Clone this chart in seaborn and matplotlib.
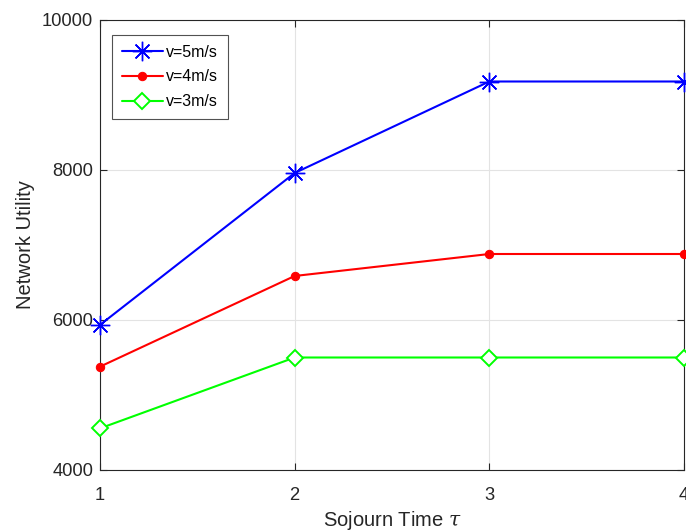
import matplotlib
matplotlib.use("Agg")
import matplotlib.pyplot as plt
import seaborn as sns
import pandas as pd

# ---- data ----
sojourn_time = [1, 2, 3, 4]
util_v5 = [5935, 7960, 9180, 9180]
util_v4 = [5378, 6587, 6880, 6880]
util_v3 = [4555, 5500, 5500, 5500]
series_labels = ["v=5m/s", "v=4m/s", "v=3m/s"]
y_ticks = [4000, 6000, 8000, 10000]
x_ticks = [1, 2, 3, 4]

sns.set_theme(style="white")
plt.rcParams["font.family"] = ["Liberation Sans", "DejaVu Sans"]
plt.rcParams["mathtext.fontset"] = "dejavuserif"

fig = plt.figure(figsize=(6.86, 5.32), dpi=100)
ax = fig.add_axes([100 / 686, 62 / 532, 584 / 686, 450 / 532])

ax.grid(True, color="#e3e3e3", linewidth=0.8, zorder=0)
ax.set_axisbelow(True)

styles = [
    dict(color="#0000ff", marker=(8, 2, 0), markersize=14, markerfacecolor="#0000ff",
         markeredgecolor="#0000ff", markeredgewidth=1.0),
    dict(color="#ff0000", marker="o", markersize=6, markerfacecolor="#ff0000",
         markeredgecolor="#ff0000"),
    dict(color="#00ff00", marker="D", markersize=8, markerfacecolor="white",
         markeredgecolor="#00ff00", markeredgewidth=1.4),
]
for vals, lab, st in zip([util_v5, util_v4, util_v3], series_labels, styles):
    df = pd.DataFrame({"t": sojourn_time, "u": vals})
    sns.lineplot(data=df, x="t", y="u", ax=ax, label=lab, linewidth=1.5,
                 clip_on=False, zorder=3, **st)

ax.set_xlim(1, 4)
ax.set_ylim(4000, 10000)
ax.set_xticks(x_ticks)
ax.set_yticks(y_ticks)
ax.set_xticklabels([str(v) for v in x_ticks])
ax.set_yticklabels([str(v) for v in y_ticks])

for s in ax.spines.values():
    s.set_color("#262626")
    s.set_linewidth(0.8)
    s.set_visible(True)
ax.tick_params(axis="both", direction="in", length=5, width=0.8, color="#262626",
               labelcolor="#262626", labelsize=13.2, top=True, right=True,
               bottom=True, left=True)
ax.tick_params(axis="x", pad=12)
ax.tick_params(axis="y", pad=5)

ax.set_xlabel("Sojourn Time $\\tau$", fontsize=14.5, color="#262626", labelpad=4)
ax.set_ylabel("Network Utility", fontsize=14.5, color="#262626", labelpad=5)

leg = ax.legend(loc="upper left", bbox_to_anchor=(12 / 584, 1 - 15 / 450),
                borderaxespad=0, fontsize=11.5, frameon=True, fancybox=False,
                handlelength=2.6, handletextpad=0.2, borderpad=0.6,
                labelspacing=0.62)
leg.get_frame().set_edgecolor("#262626")
leg.get_frame().set_linewidth(0.8)
for t in leg.get_texts():
    t.set_color("#000000")

fig.savefig("out.png", dpi=100)
